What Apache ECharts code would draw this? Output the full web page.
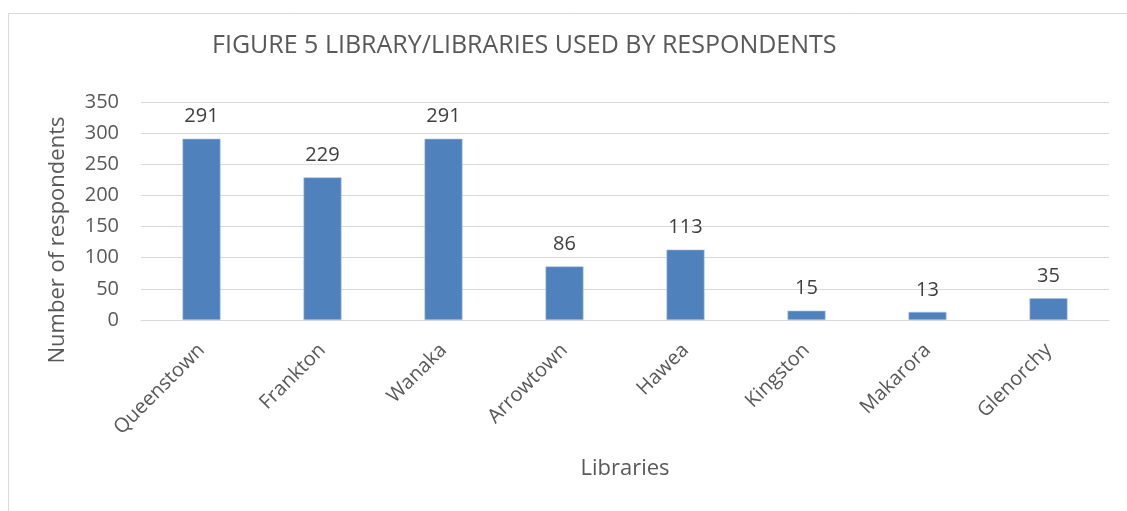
<!DOCTYPE html>
<html><head><meta charset="utf-8">
<script src="https://cdn.jsdelivr.net/npm/echarts@6/dist/echarts.min.js"></script>
<style>html,body{margin:0;padding:0;background:#fff}#c{width:1127px;height:511px}</style>
</head><body><div id="c"></div>
<script>
const categories = ["Queenstown","Frankton","Wanaka","Arrowtown","Hawea","Kingston","Makarora","Glenorchy"];
const values = [291,229,291,86,113,15,13,35];
const titleText = "FIGURE 5 LIBRARY/LIBRARIES USED BY RESPONDENTS";
const yName = "Number of respondents";
const xName = "Libraries";
const FONT = "Open Sans";
const chart = echarts.init(document.getElementById('c'));
chart.setOption({
  animation:false,
  textStyle:{fontFamily:FONT},
  graphic:[{type:'rect',shape:{x:8.5,y:13.5,width:1200,height:600},style:{fill:'none',stroke:'#d9d9d9',lineWidth:1}}],
  title:{text:titleText,left:212,top:33,padding:0,textStyle:{fontFamily:FONT,fontSize:25,fontWeight:'normal',color:'#595959'}},
  grid:{left:141,right:18,top:102,bottom:191,containLabel:false},
  xAxis:{type:'category',data:categories,name:xName,nameLocation:'middle',nameGap:138,
    nameTextStyle:{fontSize:22,color:'#595959',fontFamily:FONT},
    axisLine:{lineStyle:{color:'#d9d9d9',width:1}},axisTick:{show:false},
    axisLabel:{rotate:45,fontSize:20,color:'#595959',margin:27,fontFamily:FONT}},
  yAxis:{type:'value',min:0,max:350,interval:50,name:yName,nameLocation:'middle',nameGap:72,
    nameTextStyle:{fontSize:22,color:'#595959',fontFamily:FONT,padding:[0,58,0,0]},
    axisLine:{show:false},axisTick:{show:false},
    splitLine:{lineStyle:{color:'#d9d9d9',width:1}},
    axisLabel:{fontSize:20,color:'#595959',margin:22,fontFamily:FONT}},
  series:[{type:'bar',data:values,barWidth:38,
    itemStyle:{color:'#4f81bd',borderColor:'#a9c2e3',borderWidth:0.6},
    label:{show:true,position:'top',distance:12,fontSize:20,color:'#404040',fontFamily:FONT}}]
});
</script></body></html>
